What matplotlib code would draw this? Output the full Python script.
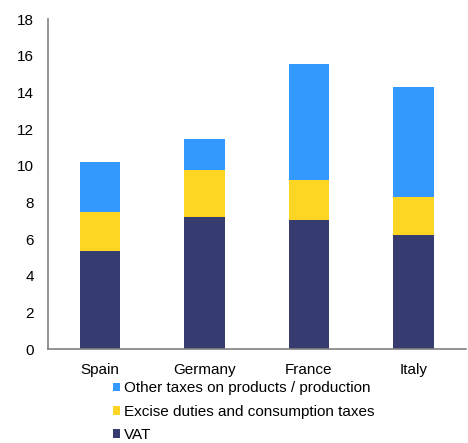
import matplotlib
matplotlib.use("Agg")
import matplotlib.pyplot as plt
import numpy as np

plt.rcParams['font.family'] = ['Liberation Sans', 'DejaVu Sans']

categories = ["Spain", "Germany", "France", "Italy"]
vat = [5.38, 7.22, 7.04, 6.22]
excise = [2.11, 2.56, 2.18, 2.07]
other = [2.71, 1.66, 6.33, 6.0]
yticks = [0, 2, 4, 6, 8, 10, 12, 14, 16, 18]

c_vat = "#363B70"
c_exc = "#FFD524"
c_oth = "#3399FF"

fig = plt.figure(figsize=(4.68, 4.43), dpi=100)
ax = fig.add_axes([0.102, 0.2115, 0.893, 0.7455])

x = np.arange(len(categories))
w = 0.39
b1 = ax.bar(x, vat, w, color=c_vat, label="VAT")
b2 = ax.bar(x, excise, w, bottom=vat, color=c_exc, label="Excise duties and consumption taxes")
bot2 = np.array(vat) + np.array(excise)
b3 = ax.bar(x, other, w, bottom=bot2, color=c_oth, label="Other taxes on products / production")

ax.set_xlim(-0.5, 3.5)
ax.set_ylim(0, 18)
ax.set_yticks(yticks)
ax.set_xticks(x)
ax.set_xticklabels(categories)
ax.tick_params(axis='both', length=0, labelsize=11, colors="#000000")
ax.tick_params(axis='y', pad=10)
ax.tick_params(axis='x', pad=10)
for s in ["top", "right"]:
    ax.spines[s].set_visible(False)
for s in ["left", "bottom"]:
    ax.spines[s].set_color("#808080")
    ax.spines[s].set_linewidth(1.2)

handles = [b3, b2, b1]
labels = [h.get_label() for h in handles]
leg = fig.legend(handles, labels, loc="upper left", bbox_to_anchor=(0.241, 0.139),
                 frameon=False, fontsize=11, handlelength=0.5, handleheight=0.5,
                 handletextpad=0.25, labelspacing=0.6, borderpad=0, borderaxespad=0)

fig.savefig("out.png", dpi=100)
